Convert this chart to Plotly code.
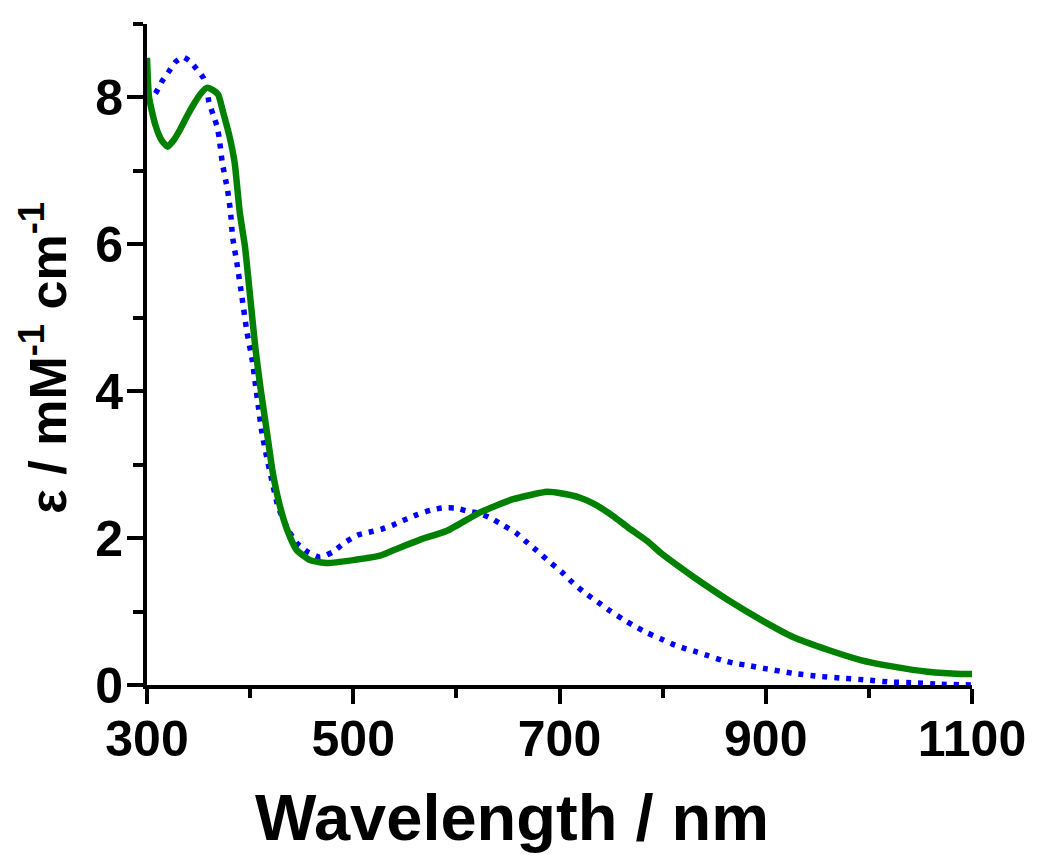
import plotly.graph_objects as go

# Green (solid) spectrum
green_wl = [300, 302, 308, 314, 320, 326, 332, 339, 345, 352, 358, 364, 369, 374, 380, 385,
            390, 395, 400, 405, 410, 416, 422, 429, 436, 445, 458, 475, 500, 526, 545, 565,
            591, 623, 655, 688, 701, 720, 733, 752, 766, 785, 798, 817, 830, 863, 895, 927,
            960, 992, 1024, 1057, 1089, 1100]
green_eps = [8.54, 8.0, 7.63, 7.42, 7.33, 7.42, 7.56, 7.75, 7.90, 8.05, 8.13, 8.10, 8.04, 7.79,
             7.47, 7.11, 6.43, 5.97, 5.29, 4.60, 4.05, 3.47, 2.89, 2.43, 2.11, 1.84, 1.70, 1.66,
             1.70, 1.76, 1.87, 1.98, 2.10, 2.35, 2.53, 2.63, 2.61, 2.55, 2.47, 2.30, 2.15, 1.96,
             1.80, 1.60, 1.47, 1.16, 0.89, 0.65, 0.48, 0.34, 0.25, 0.18, 0.15, 0.15]

# Blue (dotted) spectrum
blue_wl = [300, 308, 315, 321, 328, 335, 341, 348, 355, 358, 360, 364, 368, 370, 373, 378,
           381, 383, 387, 392, 397, 402, 405, 408, 411.5, 416, 421, 427, 437, 445.5, 456, 468,
           480, 491, 504, 515, 527, 539, 550, 562, 575, 586, 599, 610, 622, 635, 646, 658,
           667, 678, 690, 702, 713, 725, 737, 749, 761, 773, 785, 798, 809, 821, 833, 844,
           857, 868, 881, 901, 926, 950, 972, 996, 1021, 1043, 1069, 1100]
blue_eps = [7.94, 8.05, 8.23, 8.35, 8.49, 8.55, 8.50, 8.39, 8.26, 8.12, 7.94, 7.77, 7.60, 7.45,
            7.11, 6.75, 6.44, 6.10, 5.76, 5.29, 4.80, 4.43, 4.11, 3.79, 3.43, 3.11, 2.79, 2.43,
            2.11, 1.93, 1.81, 1.74, 1.81, 1.93, 2.04, 2.08, 2.12, 2.18, 2.25, 2.32, 2.38, 2.41,
            2.41, 2.37, 2.34, 2.26, 2.17, 2.07, 1.96, 1.83, 1.68, 1.54, 1.39, 1.25, 1.13, 1.01,
            0.90, 0.80, 0.71, 0.63, 0.56, 0.50, 0.45, 0.40, 0.34, 0.30, 0.27, 0.22, 0.16, 0.12,
            0.095, 0.07, 0.04, 0.03, 0.01, 0.0]

x_ticks = [300, 500, 700, 900, 1100]
y_ticks = [0, 2, 4, 6, 8]
x_title = "Wavelength / nm"
y_title = "ε / mM<sup>-1</sup> cm<sup>-1</sup>"

FONT = "Liberation Sans, Arial, sans-serif"

fig = go.Figure()
fig.add_trace(go.Scatter(x=blue_wl, y=blue_eps, mode="lines",
                         line=dict(color="#0000ff", width=5.5, dash="5px,7px",
                                   shape="spline", smoothing=0.5),
                         cliponaxis=False, showlegend=False))
fig.add_trace(go.Scatter(x=green_wl, y=green_eps, mode="lines",
                         line=dict(color="#008000", width=6.5, shape="spline", smoothing=0.5),
                         cliponaxis=False, showlegend=False))

fig.update_layout(
    width=1050, height=859,
    paper_bgcolor="white", plot_bgcolor="white",
    margin=dict(l=139, r=86, t=16, b=182, autoexpand=False),
    font=dict(family=FONT, color="black"),
)
fig.update_xaxes(
    range=[300, 1100], tickvals=x_ticks, ticktext=[str(v) for v in x_ticks],
    showgrid=False, zeroline=False, showline=True, linecolor="black", linewidth=4,
    ticks="outside", ticklen=15, tickwidth=4, tickcolor="black",
    tickfont=dict(family=FONT, size=50, weight="bold", color="black"),
    ticklabelstandoff=-8,
    minor=dict(dtick=100, tick0=300, ticks="outside", ticklen=9, tickwidth=4, tickcolor="black"),
    automargin=False,
)
fig.update_yaxes(
    range=[0, 9], tickvals=y_ticks, ticktext=[str(v) for v in y_ticks],
    showgrid=False, zeroline=False, showline=True, linecolor="black", linewidth=4,
    ticks="outside", ticklen=16, tickwidth=4, tickcolor="black",
    tickfont=dict(family=FONT, size=50, weight="bold", color="black"),
    ticklabelstandoff=-6,
    minor=dict(dtick=1, tick0=1, ticks="outside", ticklen=10, tickwidth=4, tickcolor="black"),
    automargin=False,
)
fig.add_annotation(text=x_title, xref="paper", yref="paper", x=0.4424, y=-0.1997,
                   xanchor="center", yanchor="middle", showarrow=False,
                   font=dict(family=FONT, size=65, weight="bold", color="black"))
fig.add_annotation(text=y_title, xref="paper", yref="paper", x=-0.1250, y=0.4947,
                   xanchor="center", yanchor="middle", showarrow=False, textangle=-90,
                   font=dict(family=FONT, size=52, weight="bold", color="black"))

fig.write_html("out.html")
